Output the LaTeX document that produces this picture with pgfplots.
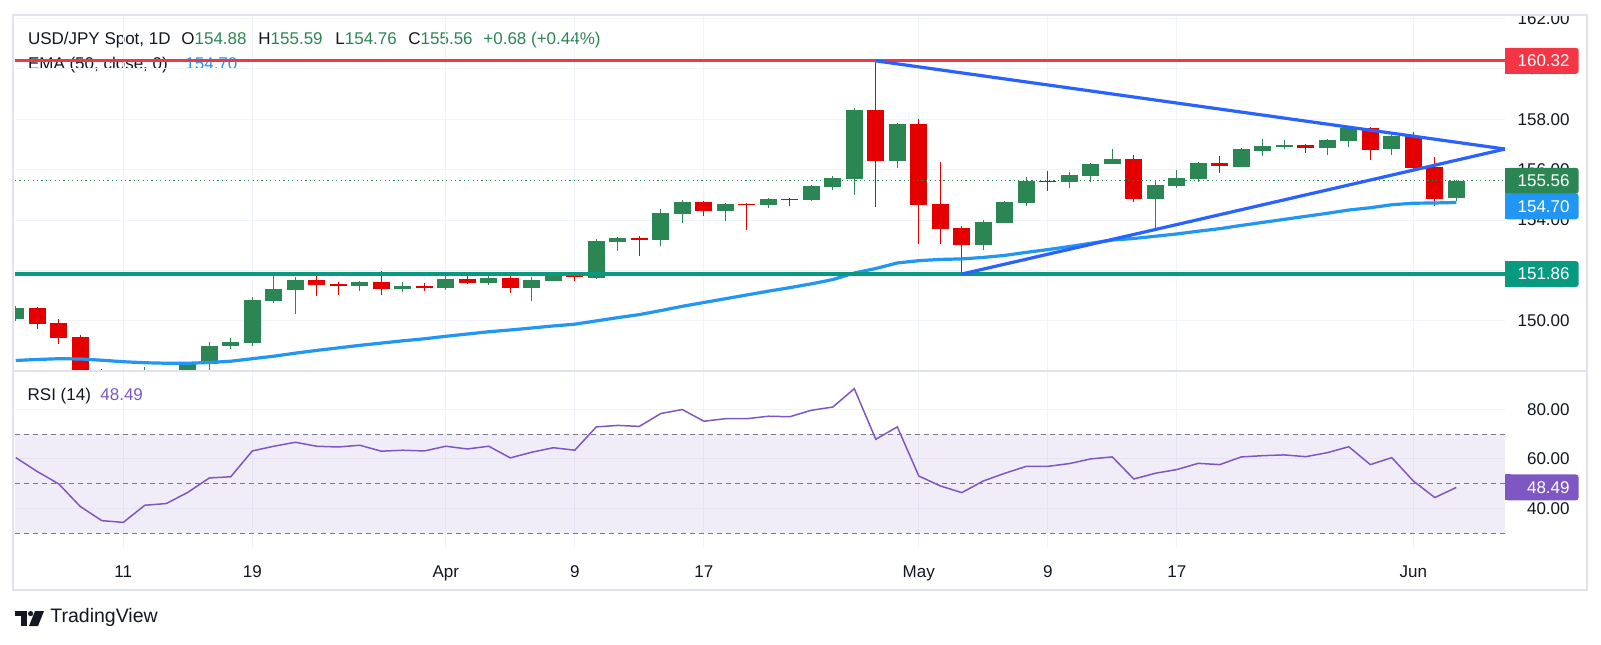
\documentclass[border=0pt]{standalone}
\usepackage{fontspec}
\setmainfont{Liberation Sans}
\usepackage{pgfplots}
\usepackage{pgfplotstable}
\pgfplotsset{compat=1.18}
\definecolor{cgreen}{HTML}{2B8654}
\definecolor{cred}{HTML}{E50000}
\definecolor{lred}{HTML}{F23645}
\definecolor{lteal}{HTML}{089981}
\definecolor{tri}{HTML}{2962FF}
\definecolor{ema}{HTML}{2196F3}
\definecolor{gridc}{HTML}{F0F3FA}
\definecolor{framec}{HTML}{E0E3EB}
\definecolor{rsic}{HTML}{7E57C2}
\definecolor{dashc}{HTML}{787B86}
\definecolor{txt}{HTML}{131722}
\newcommand{\tvf}{\fontsize{8.5}{10}\selectfont}

\pgfplotstableread{
i o h l c
0 150.09 150.60 149.98 150.51
6 146.95 148.17 146.70 147.70
7 147.70 147.95 147.50 147.80
8 147.80 148.34 147.50 148.32
9 148.30 149.16 148.05 149.00
10 149.02 149.31 148.88 149.16
11 149.14 150.95 149.02 150.83
12 150.80 151.81 150.71 151.27
13 151.24 151.74 150.29 151.62
16 151.40 151.58 151.20 151.54
18 151.28 151.53 151.16 151.38
20 151.32 151.80 151.24 151.66
22 151.52 151.94 151.44 151.70
24 151.32 151.74 150.80 151.62
25 151.60 151.94 151.60 151.81
27 151.72 153.26 151.68 153.17
28 153.15 153.32 152.79 153.30
30 153.22 154.44 152.99 154.28
31 154.26 154.80 153.90 154.72
33 154.38 154.69 153.98 154.64
35 154.61 154.87 154.49 154.84
37 154.80 155.39 154.76 155.35
38 155.33 155.75 155.20 155.67
39 155.65 158.45 155.00 158.37
41 156.36 157.87 156.08 157.81
45 153.03 154.01 152.83 153.93
46 153.90 154.76 153.90 154.72
47 154.69 155.71 154.57 155.55
49 155.53 155.90 155.29 155.79
50 155.76 156.28 155.53 156.23
51 156.21 156.82 156.21 156.43
53 154.84 155.55 153.60 155.39
54 155.37 155.99 155.29 155.66
55 155.63 156.31 155.53 156.25
57 156.12 156.88 156.12 156.82
58 156.76 157.22 156.56 156.94
59 156.93 157.18 156.82 156.97
61 156.88 157.22 156.58 157.18
62 157.14 157.71 156.92 157.67
64 156.82 157.39 156.58 157.35
67 154.88 155.59 154.76 155.56
}\up

\pgfplotstableread{
i o h l c
1 150.51 150.55 149.69 149.89
2 149.92 150.08 149.10 149.33
3 149.36 149.44 147.60 147.85
4 147.90 148.09 146.50 147.06
5 147.06 147.20 146.50 146.95
14 151.62 151.86 151.00 151.42
15 151.45 151.54 151.04 151.41
17 151.54 151.98 151.04 151.28
19 151.38 151.49 151.20 151.34
21 151.66 151.80 151.48 151.52
23 151.70 151.78 151.12 151.32
26 151.81 151.94 151.60 151.74
29 153.28 153.37 152.59 153.24
32 154.72 154.76 154.18 154.38
34 154.65 154.68 153.62 154.61
36 154.84 154.89 154.57 154.80
40 158.37 160.32 154.53 156.36
42 157.81 158.03 153.07 154.61
43 154.64 156.31 153.07 153.66
44 153.69 153.77 151.86 153.03
48 155.57 155.95 155.17 155.53
52 156.43 156.58 154.73 154.84
56 156.28 156.54 155.88 156.16
60 156.99 157.02 156.68 156.88
63 157.67 157.71 156.39 156.78
65 157.35 157.48 155.95 156.08
66 156.11 156.52 154.56 154.84
}\down

\pgfplotstableread{
i v
0 148.43
1 148.47
2 148.50
3 148.49
4 148.44
5 148.38
6 148.34
7 148.32
8 148.32
9 148.35
10 148.40
11 148.50
12 148.60
13 148.72
14 148.83
15 148.93
16 149.03
17 149.12
18 149.21
19 149.29
20 149.39
21 149.48
22 149.57
23 149.64
24 149.72
25 149.80
26 149.87
27 150.00
28 150.13
29 150.25
30 150.41
31 150.58
32 150.73
33 150.88
34 151.03
35 151.18
36 151.32
37 151.47
38 151.64
39 151.90
40 152.08
41 152.30
42 152.39
43 152.44
44 152.46
45 152.52
46 152.60
47 152.72
48 152.83
49 152.95
50 153.08
51 153.21
52 153.27
53 153.36
54 153.45
55 153.56
56 153.66
57 153.79
58 153.91
59 154.03
60 154.15
61 154.27
62 154.40
63 154.49
64 154.61
65 154.67
66 154.68
67 154.70
}\ematab

\pgfplotstableread{
i r
0 60.5
1 54.9
2 49.9
3 40.8
4 35.1
5 34.4
6 41.3
7 42.0
8 46.5
9 52.3
10 52.8
11 63.2
12 65.1
13 66.7
14 65.1
15 64.8
16 65.5
17 63.1
18 63.5
19 63.2
20 65.1
21 64.0
22 65.1
23 60.4
24 62.7
25 64.5
26 63.5
27 72.9
28 73.5
29 73.1
30 78.3
31 79.9
32 75.2
33 76.2
34 76.2
35 77.2
36 77.0
37 79.6
38 80.9
39 88.3
40 67.9
41 72.9
42 53.1
43 49.1
44 46.4
45 51.1
46 54.2
47 57.0
48 57.0
49 58.1
50 60.0
51 60.8
52 51.9
53 54.2
54 55.7
55 58.2
56 57.7
57 60.8
58 61.3
59 61.6
60 60.9
61 62.5
62 64.9
63 57.7
64 60.5
65 51.1
66 44.4
67 48.49
}\rsitab

\newcommand{\pbox}[4]{%
  \begin{scope}[shift={(#1)}, yshift=#4]
    \fill[#2, rounded corners=1.5pt] (0pt,-6.5pt) rectangle (36.85pt,6.5pt);
    \fill[#2] (0pt,-6.5pt) rectangle (3pt,6.5pt);
    \node[anchor=east, inner sep=0pt, text=white, font=\tvf] at (32.5pt,0pt) {#3};
  \end{scope}}

\pgfplotsset{
  candle wick/.style={draw=none, mark=none, error bars/.cd, y dir=both, y explicit, error mark=none,
     error bar style={draw=#1, solid, line width=0.6pt}},
  candle body/.style={draw=none, mark=none, error bars/.cd, y dir=both, y explicit, error mark=none,
     error bar style={draw=#1, solid, line width=8.5pt}},
}

\begin{document}
\begin{tikzpicture}
\useasboundingbox (0,0) rectangle (800.5pt,322pt);
\fill[white] (0,0) rectangle (800.5pt,322pt);

% header texts
\begin{scope}[every node/.style={anchor=base west, inner sep=0pt, font=\tvf, text=txt}]
\node at (13.8pt,299.9pt) {USD/JPY Spot, 1D};
\node at (90.5pt,299.9pt) {O\textcolor{cgreen}{154.88}};
\node at (129pt,299.9pt) {H\textcolor{cgreen}{155.59}};
\node at (167.5pt,299.9pt) {L\textcolor{cgreen}{154.76}};
\node at (204pt,299.9pt) {C\textcolor{cgreen}{155.56}};
\node at (241.5pt,299.9pt) {\textcolor{cgreen}{+0.68 (+0.44\%)}};
\node at (13.8pt,287pt) {EMA (50, close, 0)};
\node at (92.5pt,287pt) {\textcolor{ema}{154.70}};
\node at (13.65pt,122pt) {RSI (14)};
\node at (50pt,122pt) {\textcolor{rsic}{48.49}};
\end{scope}

\begin{axis}[at={(7.5pt,137pt)}, anchor=south west, scale only axis,
  width=745pt, height=177.5pt,
  xmin=-0.037, xmax=69.265, ymin=148.052, ymax=162.139,
  axis line style={draw=none}, major tick length=0pt,
  xtick={5,11,20,26,32,42,48,54,65}, xticklabels={},
  ytick={150,152,154,156,158,160,162},
  yticklabels={150.00,,154.00,156.00,158.00,160.00,162.00},
  yticklabel pos=right,
  yticklabel style={anchor=east, xshift=32.5pt, inner sep=0pt, font=\tvf, text=txt},
  xmajorgrids, ymajorgrids, grid style={draw=gridc, line width=0.5pt},
]
\addplot[candle wick=cgreen] table[x=i, y expr={(\thisrow{h}+\thisrow{l})/2}, y error expr={(\thisrow{h}-\thisrow{l})/2}] {\up};
\addplot[candle body=cgreen] table[x=i, y expr={(\thisrow{o}+\thisrow{c})/2}, y error expr={abs(\thisrow{c}-\thisrow{o})/2}] {\up};
\addplot[candle wick=cred] table[x=i, y expr={(\thisrow{h}+\thisrow{l})/2}, y error expr={(\thisrow{h}-\thisrow{l})/2}] {\down};
\addplot[candle body=cred] table[x=i, y expr={(\thisrow{o}+\thisrow{c})/2}, y error expr={abs(\thisrow{c}-\thisrow{o})/2}] {\down};
\addplot[ema, line width=1.6pt] table[x=i, y=v] {\ematab};
\addplot[cgreen, line width=0.6pt, dash pattern=on 0.6pt off 1.6pt] coordinates {(-0.037,155.56) (69.265,155.56)};
\addplot[lred, line width=1.6pt] coordinates {(-0.037,160.32) (69.265,160.32)};
\addplot[lteal, line width=1.6pt] coordinates {(-0.037,151.86) (69.265,151.86)};
\addplot[tri, line width=1.6pt] coordinates {(40,160.32) (69.265,156.82)};
\addplot[tri, line width=1.6pt] coordinates {(44,151.86) (69.265,156.82)};
\coordinate (pR) at (axis cs:69.265,160.32);
\coordinate (pG) at (axis cs:69.265,155.56);
\coordinate (pB) at (axis cs:69.265,154.70);
\coordinate (pT) at (axis cs:69.265,151.86);
\end{axis}

\begin{axis}[at={(7.5pt,48pt)}, anchor=south west, scale only axis,
  width=745pt, height=88.5pt,
  xmin=-0.037, xmax=69.265, ymin=24.07, ymax=95.44,
  axis line style={draw=none}, major tick length=0pt,
  xtick={5,11,20,26,32,42,48,54,65},
  xticklabels={11,19,Apr,9,17,May,9,17,Jun},
  xticklabel style={anchor=base, yshift=-14.5pt, inner sep=0pt, font=\tvf, text=txt},
  ytick={40,60,80}, yticklabels={40.00,60.00,80.00},
  yticklabel pos=right,
  yticklabel style={anchor=east, xshift=32.5pt, inner sep=0pt, font=\tvf, text=txt},
  xmajorgrids, ymajorgrids, grid style={draw=gridc, line width=0.5pt},
]
\addplot[draw=none, fill=rsic, fill opacity=0.1] coordinates {(-0.037,30) (69.265,30) (69.265,70) (-0.037,70)} -- cycle;
\addplot[dashc, line width=0.5pt, dash pattern=on 2.5pt off 2pt] coordinates {(-0.037,70) (69.265,70)};
\addplot[dashc, line width=0.5pt, dash pattern=on 2.5pt off 2pt] coordinates {(-0.037,50) (69.265,50)};
\addplot[dashc, line width=0.5pt, dash pattern=on 2.5pt off 2pt] coordinates {(-0.037,30) (69.265,30)};
\addplot[rsic, line width=0.75pt] table[x=i, y=r] {\rsitab};
\coordinate (pRSI) at (axis cs:69.265,48.49);
\end{axis}

\pbox{pR}{lred}{160.32}{0pt}
\pbox{pG}{cgreen}{155.56}{0pt}
\pbox{pB}{ema}{154.70}{-1.9pt}
\pbox{pT}{lteal}{151.86}{0pt}
\pbox{pRSI}{rsic}{48.49}{0pt}

% frame
\fill[white] (752.5pt,315pt) rectangle (800.5pt,322pt);
\draw[framec, line width=1pt] (6.5pt,27pt) rectangle (793.5pt,314.5pt);
\draw[framec, line width=1pt] (6.5pt,136.75pt) -- (793.5pt,136.75pt);

% logo
\fill[txt] (7.5pt,14pt) rectangle (13.5pt,16.5pt);
\fill[txt] (10.5pt,9pt) rectangle (13.5pt,16.5pt);
\fill[txt] (15.3pt,15.2pt) circle (1.3pt);
\fill[txt] (17.5pt,16.5pt) -- (22pt,16.5pt) -- (19pt,9pt) -- (14.5pt,9pt) -- cycle;
\node[anchor=base west, inner sep=0pt, font=\fontsize{9.75}{11}\selectfont, text=txt] at (25pt,11pt) {TradingView};
\end{tikzpicture}
\end{document}
